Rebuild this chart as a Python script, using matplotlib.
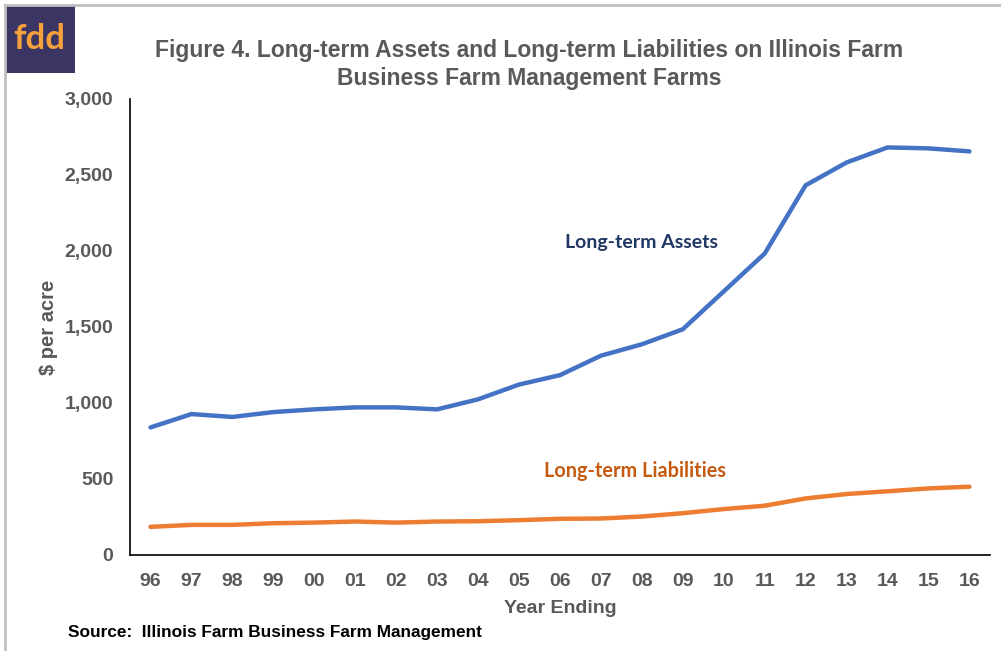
"""Figure 4: long-term assets and liabilities on Illinois FBFM farms."""

import matplotlib
matplotlib.use("Agg")
import matplotlib.pyplot as plt
from matplotlib.patches import Rectangle
from matplotlib.ticker import FuncFormatter

years = ["96", "97", "98", "99", "00", "01", "02", "03", "04", "05", "06",
         "07", "08", "09", "10", "11", "12", "13", "14", "15", "16"]
assets = [839, 927, 908, 940, 958, 971, 971, 958, 1024, 1121, 1183,
          1311, 1386, 1485, 1734, 1983, 2432, 2582, 2681, 2675, 2655]
liabilities = [185, 198, 198, 209, 213, 220, 213, 220, 222, 229, 238,
               240, 253, 275, 302, 324, 372, 401, 419, 438, 449]

GRAY = "#595959"

plt.rcParams["font.family"] = ["Liberation Sans", "DejaVu Sans"]

fig = plt.figure(figsize=(10.01, 6.51), dpi=100)
ax = fig.add_axes([0.1299, 0.1475, 0.859, 0.7005])

x = list(range(len(years)))
ax.plot(x, assets, color="#4472C4", linewidth=3.2, solid_capstyle="round")
ax.plot(x, liabilities, color="#ED7D31", linewidth=3.2, solid_capstyle="round")

ax.set_xlim(-0.5, len(years) - 0.5)
ax.set_ylim(0, 3000)
ax.set_yticks(range(0, 3001, 500))
ax.yaxis.set_major_formatter(FuncFormatter(lambda v, p: f"{int(v):,}"))
ax.set_xticks(x)
ax.set_xticklabels(years)
ax.tick_params(axis="y", length=0, labelsize=14, labelcolor=GRAY, pad=12)
ax.tick_params(axis="x", length=0, labelsize=14, labelcolor=GRAY, pad=13)
for lab in ax.get_xticklabels() + ax.get_yticklabels():
    lab.set_fontweight("bold")

for side in ["top", "right"]:
    ax.spines[side].set_visible(False)
ax.spines["left"].set_color("black")
ax.spines["bottom"].set_color("black")
ax.spines["left"].set_linewidth(1.2)
ax.spines["bottom"].set_linewidth(1.2)

ax.set_xlabel("Year Ending", fontsize=14, fontweight="bold", color=GRAY, labelpad=7)
fig.text(0.048, 0.497, "$ per acre", rotation=90, ha="center", va="center",
         fontsize=14.5, fontweight="bold", color=GRAY)

ax.text(12, 2055, "Long-term Assets", ha="center", va="center",
        fontsize=14, fontweight="bold", color="#203864", family=["Lato", "DejaVu Sans"])
ax.text(11.83, 555, "Long-term Liabilities", ha="center", va="center",
        fontsize=14.3, fontweight="bold", color="#C55A11", family=["Lato", "DejaVu Sans"])

fig.text(0.529, 0.922, "Figure 4. Long-term Assets and Long-term Liabilities on Illinois Farm",
         ha="center", va="center", fontsize=16.5, fontweight="bold", color=GRAY)
fig.text(0.529, 0.880, "Business Farm Management Farms",
         ha="center", va="center", fontsize=16.5, fontweight="bold", color=GRAY)

fig.text(0.068, 0.029, "Source:  Illinois Farm Business Farm Management",
         ha="left", va="center", fontsize=12.4, fontweight="bold", color="black")

# logo box and frame lines
fig.patches.append(Rectangle((0.006, 0.888), 0.069, 0.103, transform=fig.transFigure,
                             facecolor="#3B3564", edgecolor="none"))
fig.text(0.039, 0.94, "fdd", ha="center", va="center", fontsize=25, fontweight="bold",
         color="#F7A13A", family=["Lato", "DejaVu Sans"])
fig.add_artist(plt.Line2D([0.005, 1.0], [0.993, 0.993], transform=fig.transFigure,
                          color="#BFBFBF", linewidth=2))
fig.add_artist(plt.Line2D([0.005, 0.005], [0.0, 0.993], transform=fig.transFigure,
                          color="#BFBFBF", linewidth=2))

fig.savefig("out.png", dpi=100)
